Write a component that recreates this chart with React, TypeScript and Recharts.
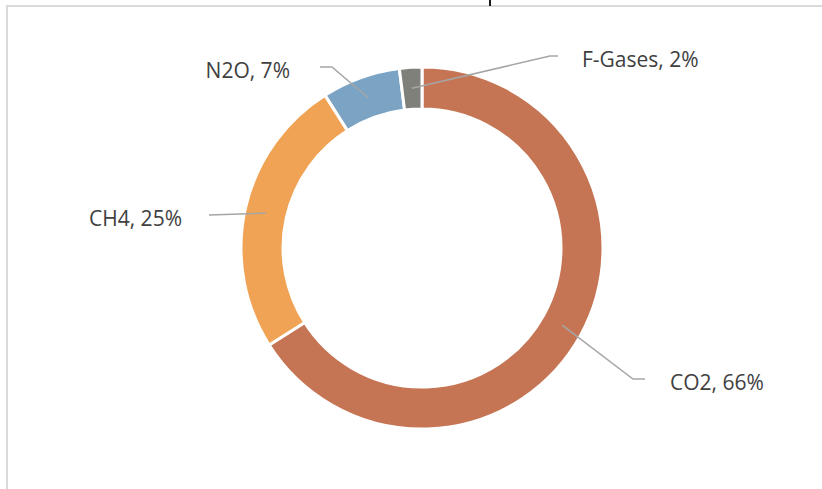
import React from "react";
import { PieChart, Pie, Cell } from "recharts";

const gasNames = ["CO2", "CH4", "N2O", "F-Gases"];
const gasShares = [66, 25, 7, 2];
const gasColors = ["#C57554", "#F0A354", "#7AA3C4", "#80807A"];

const data = gasNames.map((name, i) => ({ name, value: gasShares[i] }));

// leader-line elbow/end and text offsets relative to the pie centre (layout only)
const LABEL_LAYOUT: Record<string, { elbow: [number, number]; end: [number, number]; textX: number; anchor: "start" | "end" }> = {
  CO2: { elbow: [211, 131], end: [223, 131], textX: 248, anchor: "start" },
  CH4: { elbow: [-213, -33], end: [-213, -33], textX: -240, anchor: "end" },
  N2O: { elbow: [-90, -181], end: [-102, -181], textX: -132, anchor: "end" },
  "F-Gases": { elbow: [128, -192], end: [136, -192], textX: 160, anchor: "start" },
};

const RAD = Math.PI / 180;

const renderLabel = (props: any) => {
  const { cx, cy, midAngle, innerRadius, outerRadius, name, percent } = props;
  const r = (innerRadius + outerRadius) / 2;
  const sx = cx + r * Math.cos(-midAngle * RAD);
  const sy = cy + r * Math.sin(-midAngle * RAD);
  const L = LABEL_LAYOUT[name];
  const ex = cx + L.elbow[0];
  const ey = cy + L.elbow[1];
  const fx = cx + L.end[0];
  const fy = cy + L.end[1];
  return (
    <g>
      <polyline
        points={`${sx},${sy} ${ex},${ey} ${fx},${fy}`}
        fill="none"
        stroke="#A6A6A6"
        strokeWidth={1.5}
      />
      <text
        x={cx + L.textX}
        y={fy + 2.5}
        textAnchor={L.anchor}
        dominantBaseline="central"
        fill="#404040"
        fontSize={21}
        fontFamily="'Open Sans', sans-serif"
      >
        {`${name}, ${Math.round(percent * 100)}%`}
      </text>
    </g>
  );
};

export default function App() {
  return (
    <div style={{ position: "absolute", left: 0, top: 0, width: 822, height: 489, overflow: "hidden", background: "#fff" }}>
      <div
        style={{
          position: "absolute",
          left: 6,
          top: 5,
          width: 1200,
          height: 1000,
          border: "2px solid #D9D9D9",
        }}
      />
      {/* descender of the clipped chart title */}
      <div style={{ position: "absolute", left: 489, top: 0, width: 2, height: 6, background: "#1a1a1a" }} />
      <div style={{ position: "absolute", left: 0, top: 0 }}>
        <PieChart width={822} height={489} margin={{ top: 0, right: 0, bottom: 0, left: 0 }}>
          <Pie
            data={data}
            dataKey="value"
            nameKey="name"
            cx={422}
            cy={248}
            innerRadius={139}
            outerRadius={181}
            startAngle={90}
            endAngle={-270}
            stroke="#FFFFFF"
            strokeWidth={3}
            label={renderLabel}
            labelLine={false}
            isAnimationActive={false}
          >
            {data.map((d, i) => (
              <Cell key={d.name} fill={gasColors[i]} />
            ))}
          </Pie>
        </PieChart>
      </div>
    </div>
  );
}
